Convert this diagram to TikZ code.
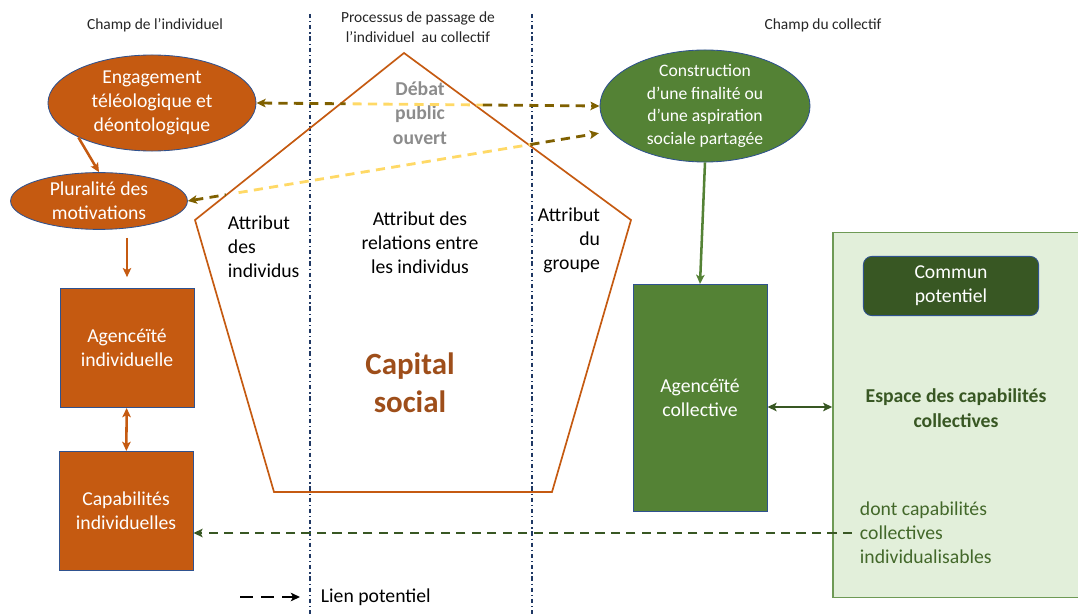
\documentclass[tikz,border=0pt]{standalone}
\usepackage{fontspec}
\setmainfont{Carlito}
\usetikzlibrary{shapes.geometric,calc,arrows.meta}
\definecolor{orangebox}{HTML}{C55A11}
\definecolor{bordblue}{HTML}{2F528F}
\definecolor{sepblue}{HTML}{1F3864}
\definecolor{vert}{HTML}{548235}
\definecolor{vertfonce}{HTML}{385723}
\definecolor{vertclair}{HTML}{E2EFDA}
\definecolor{vertbord}{HTML}{6E9A55}
\definecolor{olive}{HTML}{7F6000}
\definecolor{jaune}{HTML}{FFD966}
\definecolor{brique}{RGB}{158,78,26}
\begin{document}
\begin{tikzpicture}[x=0.025cm,y=-0.025cm,>={Stealth[length=6.5pt,width=6pt,inset=1.5pt]},
  every node/.style={font=\fontsize{14}{17}\selectfont,align=center},
  oval/.style={ellipse,draw=bordblue,line width=0.6pt,fill=#1,inner sep=0pt},
  bloc/.style={rectangle,draw=bordblue,line width=0.6pt,fill=#1,text=white,minimum width=3.35cm},
  wtxt/.style={text=white},
  champ/.style={font=\fontsize{11}{14}\selectfont,text=black!85},
  sep/.style={draw=sepblue,line width=1pt,dash dot},
  fleche/.style={line width=1.8pt,draw=#1},
  potent/.style={line width=2pt,dash pattern=on 6.5pt off 4.5pt,draw=#1}]
\useasboundingbox (0,0) rectangle (1078,616);

% titres des champs
\node[champ] (tindiv) at (155,25) {Champ de l’individuel};
\node[champ] (tpass) at (418,27) {Processus de passage de\\l’individuel\ \ au collectif};
\node[champ] (tcoll) at (823,25) {Champ du collectif};
\draw[sep] (310,14) -- (310,616);
\draw[sep] (532,14) -- (532,616);

% capital social
\draw[orangebox,line width=1.2pt] (404,53) -- (631,220) -- (552,492) -- (274,492) -- (195,220) -- cycle;
\node[font=\bfseries\fontsize{14}{17.5}\selectfont,text=black!45] (debat) at (420,113) {Débat\\public\\ouvert};
\node[align=left,anchor=west] (aind) at (223,247) {Attribut\\des\\individus};
\node (arel) at (420,243) {Attribut des\\relations entre\\les individus};
\node[align=right,anchor=east] (agrp) at (605,240) {Attribut\\du\\groupe};
\node[font=\bfseries\fontsize{22}{27}\selectfont,text=brique] (capsoc) at (410,383) {Capital\\social};

% champ de l'individuel
\node[oval=orangebox,minimum width=5.2cm,minimum height=2.4cm,
  label={[wtxt]center:Engagement\\téléologique et\\déontologique}] (eng) at (152,103) {};
\node[oval=orangebox,minimum width=4.42cm,minimum height=1.42cm,
  label={[wtxt]center:Pluralité des\\motivations}] (plu) at (99,201) {};
\node[bloc=orangebox,minimum height=2.98cm] (agind) at (127,348) {Agencéïté\\individuelle};
\node[bloc=orangebox,minimum height=2.98cm] (capind) at (126,511) {Capabilités\\individuelles};

% champ du collectif
\node[oval=vert,minimum width=5.25cm,minimum height=2.8cm,
  label={[wtxt,font=\fontsize{12.5}{16}\selectfont]center:Construction\\d’une finalité ou\\d’une aspiration\\sociale partagée}] (constr) at (705,106) {};
\node[bloc=vert,minimum height=5.68cm] (agcol) at (700,398) {Agencéïté\\collective};
\node[rectangle,draw=vertbord,line width=1pt,fill=vertclair,minimum width=6.5cm,minimum height=9.13cm] (espace) at (963,415) {};
\node[rectangle,rounded corners=6pt,draw=bordblue,line width=0.6pt,fill=vertfonce,text=white,
  minimum width=4.38cm,minimum height=1.48cm] (commun) at (951,286) {Commun\\potentiel};
\node[font=\bfseries\fontsize{14}{17.5}\selectfont,text=vertfonce] (esptxt) at (956,408) {Espace des capabilités\\collectives};
\node[align=left,anchor=west,text=vert!80!black] (dont) at (855,533) {dont capabilités\\collectives\\individualisables};

% liens
\draw[fleche=orangebox,->] (eng.205) -- (plu.north);
\draw[fleche=orangebox,->,shorten <=0.2cm,shorten >=0.27cm] (agind.north |- plu.south) -- (agind.north);
\draw[fleche=orangebox,<->] (agind) -- (capind);
\draw[fleche=vert,->] (constr.south) -- (agcol.north);
\draw[fleche=vertfonce,<->] ($(agcol.east)+(0,9)$) -- ($(agcol.east -| espace.west)+(0,9)$);

% liens potentiels
\draw[potent=olive,<-] (eng.east) -- ($(eng.east)!0.26!(constr.west)$);
\draw[potent=jaune] ($(eng.east)!0.28!(constr.west)$) -- ($(eng.east)!0.66!(constr.west)$);
\draw[potent=olive,->] ($(eng.east)!0.66!(constr.west)$) -- (constr.west);
\draw[potent=olive,<-] (plu.east) -- ($(plu.east)!0.09!(constr.195)$);
\draw[potent=jaune] ($(plu.east)!0.12!(constr.195)$) -- ($(plu.east)!0.81!(constr.195)$);
\draw[potent=olive,->,shorten >=0.3cm] ($(plu.east)!0.81!(constr.195)$) -- (constr.195);
\draw[potent=vertfonce,->] ($(dont.west)+(-3,0)$) -- (capind.east |- dont.west);

% legende
\coordinate (lgA) at (240,597);
\node[anchor=west] (lien) at (316,597) {Lien potentiel};
\draw[potent=black,dash pattern=on 9pt off 6pt,->,shorten >=0.4cm] (lgA) -- (lien.west);
\end{tikzpicture}
\end{document}
